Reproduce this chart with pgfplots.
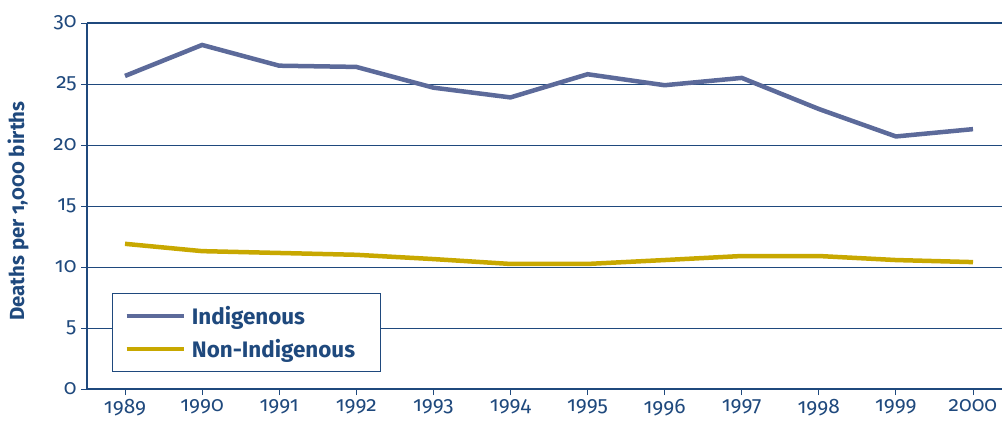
\documentclass[border=0pt]{standalone}
\usepackage{pgfplots}
\pgfplotsset{compat=1.18}
\usepackage{fontspec}
\setmainfont{Fira Sans}[Numbers=OldStyle]
\definecolor{txt}{RGB}{31,73,125}
\definecolor{indig}{RGB}{92,106,154}
\definecolor{nonind}{RGB}{200,168,0}
\begin{document}
\begin{tikzpicture}
\useasboundingbox (-87bp,-37bp) rectangle (915bp,389bp);
\begin{axis}[
  at={(0,0)}, anchor=origin,
  scale only axis, width=915bp, height=366bp,
  xmin=1988.507, xmax=2000.376, ymin=0, ymax=30,
  axis x line=bottom, axis y line=left,
  axis line style={txt, line width=1.6pt, -},
  xtick={1989,...,2000}, ytick={0,5,...,30},
  x tick label style={/pgf/number format/1000 sep={}},
  /pgf/number format/assume math mode=true,
  tick label style={font=\fontsize{21}{25}\selectfont, text=txt},
  tick style={txt, line width=0.8pt},
  tick align=outside, major tick length=6bp,
  ymajorgrids, grid style={txt, line width=0.7pt},
  ylabel={\bfseries Deaths per 1,000 births},
  ylabel style={font=\fontsize{20.5}{24}\selectfont, text=txt, at={(axis description cs:-0.0754,0.486)}, anchor=center},
  yticklabel style={xshift=-1bp},
  xticklabel style={yshift=-1bp},
  legend style={at={(25bp,17bp)}, anchor=south west, draw=txt, line width=0.8pt,
    font=\bfseries\fontsize{22.5}{27}\selectfont, text=txt, inner xsep=12bp, inner ysep=11bp,
    row sep=9bp, cells={anchor=west},
    /tikz/every odd column/.append style={column sep=4bp}},
  legend cell align=left,
  legend image code/.code={\draw[#1, line width=4.5bp] (0bp,0bp) -- (57bp,0bp);},
]
\draw[txt, line width=1.6pt] (rel axis cs:0,1) -- (rel axis cs:1,1);
\addplot[indig, line width=4.5bp] coordinates {
(1989,25.66) (1990,28.2) (1991,26.5) (1992,26.4) (1993,24.7) (1994,23.9)
(1995,25.8) (1996,24.9) (1997,25.5) (1998,22.95) (1999,20.7) (2000,21.3)};
\addlegendentry{Indigenous}
\addplot[nonind, line width=4.5bp] coordinates {
(1989,11.9) (1990,11.3) (1991,11.15) (1992,11.0) (1993,10.65) (1994,10.25)
(1995,10.25) (1996,10.57) (1997,10.9) (1998,10.9) (1999,10.57) (2000,10.4)};
\addlegendentry{Non-Indigenous\hspace*{11bp}}
\end{axis}
\end{tikzpicture}
\end{document}
